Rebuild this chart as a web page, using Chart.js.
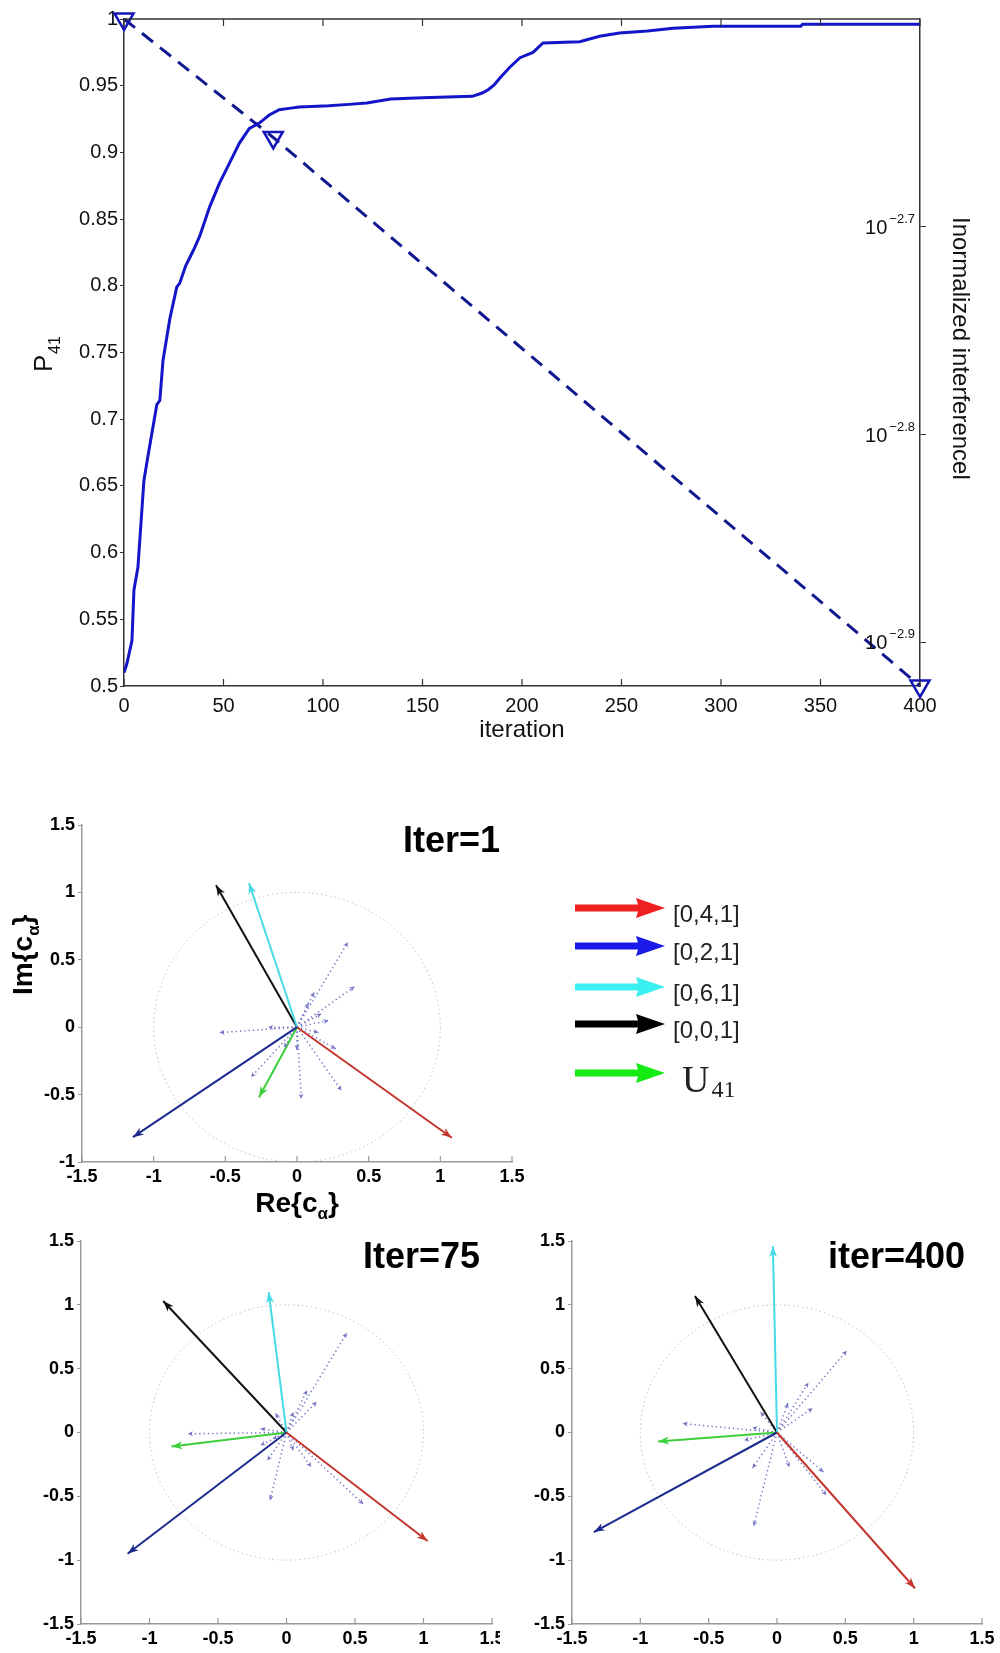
<!DOCTYPE html>
<html>
<head>
<meta charset="utf-8">
<script src="https://cdn.jsdelivr.net/npm/chart.js@4.4.1/dist/chart.umd.min.js"></script>
<style>
  body { margin: 0; background: #fff; width: 1000px; height: 1653px; position: relative; overflow: hidden; }
  canvas { position: absolute; }
</style>
</head>
<body>
<canvas id="pChart" width="1000" height="760" style="left:0;top:0;width:1000px;height:760px"></canvas>
<canvas id="c1" width="860" height="460" style="left:0;top:780px;width:860px;height:460px"></canvas>
<canvas id="c2" width="500" height="453" style="left:0;top:1200px;width:500px;height:453px"></canvas>
<canvas id="c3" width="500" height="453" style="left:500px;top:1200px;width:500px;height:453px"></canvas>
<script>
// ---- top panel: P41 vs iteration + normalized interference (log, right axis)
const iterations = [0, 1.5, 4, 5, 7, 10, 12, 16.5, 18, 19.6, 23, 26.5, 28, 31, 35, 38, 43, 48, 53, 58,
  63, 68, 73, 78, 83, 88, 103, 113, 122, 134, 150, 175, 180, 183, 186, 189, 194, 199, 205.5, 210.6,
  229, 239, 249, 263, 276, 296, 340, 341, 400];
const p41 = [0.510, 0.517, 0.534, 0.572, 0.589, 0.654, 0.672, 0.711, 0.714, 0.744, 0.775, 0.799, 0.802, 0.815, 0.827, 0.837, 0.859, 0.877, 0.892, 0.907,
  0.918, 0.922, 0.928, 0.932, 0.933, 0.934, 0.935, 0.936, 0.937, 0.940, 0.941, 0.942, 0.9445, 0.947, 0.9505, 0.956, 0.964, 0.971, 0.975, 0.982,
  0.983, 0.987, 0.9895, 0.991, 0.993, 0.9945, 0.9945, 0.996, 0.996];
const interfIter = [0, 75, 400];
const interfValues = [0.0025119, 0.0022029, 0.0011995];
const iterTicks = [0, 50, 100, 150, 200, 250, 300, 350, 400];
const pTicks = [0.5, 0.55, 0.6, 0.65, 0.7, 0.75, 0.8, 0.85, 0.9, 0.95, 1];
const logExpTicks = [-2.9, -2.8, -2.7];

// ---- compass panels (order: [0,4,1], [0,2,1], [0,6,1], [0,0,1], U41)
const vecNames = ['[0,4,1]', '[0,2,1]', '[0,6,1]', '[0,0,1]'];
const iter1Re = [1.08, -1.145, -0.335, -0.565, -0.265];
const iter1Im = [-0.82, -0.816, 1.07, 1.053, -0.52];
const iter1DotRe = [0.355, 0.40, -0.54, -0.32, 0.03, 0.31, 0.27, 0.15, 0.17, 0.12, 0.0, -0.09, -0.2, 0.08, 0.22];
const iter1DotIm = [0.63, 0.30, -0.04, -0.37, -0.53, -0.47, -0.16, -0.04, 0.10, 0.26, -0.17, -0.15, 0.0, 0.18, 0.05];

const iter75Re = [1.03, -1.16, -0.13, -0.90, -0.84];
const iter75Im = [-0.85, -0.95, 1.10, 1.03, -0.11];
const iter75DotRe = [0.44, 0.22, 0.15, -0.72, -0.19, -0.14, -0.12, 0.18, 0.56, -0.08, 0.05, -0.19, 0.05, -0.10];
const iter75DotIm = [0.78, 0.24, 0.33, -0.01, 0.03, -0.22, -0.53, -0.27, -0.56, 0.15, 0.16, -0.10, -0.14, -0.05];

const iter400Re = [1.01, -1.34, -0.03, -0.60, -0.87];
const iter400Im = [-1.22, -0.78, 1.46, 1.07, -0.07];
const iter400DotRe = [0.51, 0.26, 0.23, -0.69, -0.18, -0.24, -0.18, -0.17, 0.09, 0.34, 0.36, 0.08, -0.12];
const iter400DotIm = [0.64, 0.19, 0.39, 0.07, 0.04, -0.06, -0.28, -0.73, -0.27, -0.31, -0.49, 0.23, 0.16];

const compassTicks = [-1.5, -1, -0.5, 0, 0.5, 1, 1.5];

const fam = "'Liberation Sans', Arial, Helvetica, sans-serif";
const serif = "'Liberation Serif', 'DejaVu Serif', serif";
const vecColors = ['#c4352d', '#1c2a8e', '#45dbe6', '#111111', '#3ccf3c'];
const legendColors = ['#ee2020', '#1a1ae8', '#3af0f0', '#000000', '#14ec14'];
const dotColor = '#7274c4';
const axisDark = '#333';
const axisGray = '#9a9a9a';

function fmt(v) { return String(Number(v.toFixed(2))); }

const topDecor = {
  id: 'topDecor',
  afterDraw(chart) {
    const { ctx, chartArea: a, scales } = chart;
    const x = scales.x, y2 = scales.y2;
    ctx.save();
    ctx.strokeStyle = axisDark;
    ctx.lineWidth = 1.5;
    ctx.beginPath();
    ctx.moveTo(a.left, a.top); ctx.lineTo(a.right, a.top);
    ctx.stroke();
    // inward x ticks, bottom and top
    ctx.lineWidth = 1.2;
    x.ticks.forEach(t => {
      const px = x.getPixelForValue(t.value);
      ctx.beginPath();
      ctx.moveTo(px, a.bottom); ctx.lineTo(px, a.bottom - 7);
      ctx.moveTo(px, a.top); ctx.lineTo(px, a.top + 7);
      ctx.stroke();
    });
    // log tick labels written inside the plot, 10 with superscript
    ctx.fillStyle = '#111';
    ctx.textAlign = 'right';
    ctx.textBaseline = 'alphabetic';
    y2.ticks.forEach(t => {
      const py = y2.getPixelForValue(t.value);
      const sup = '\u2212' + Math.abs(Math.log10(t.value)).toFixed(1);
      ctx.font = '13px ' + fam;
      const sw = ctx.measureText(sup).width;
      ctx.fillText(sup, a.right - 5, py - 4);
      ctx.font = '20px ' + fam;
      ctx.fillText('10', a.right - 7 - sw, py + 7);
    });
    // axis titles
    ctx.font = '24px ' + fam;
    ctx.textAlign = 'center';
    ctx.fillText('iteration', (a.left + a.right) / 2, 737);
    ctx.save();
    ctx.translate(52, 372);
    ctx.rotate(-Math.PI / 2);
    ctx.textAlign = 'left';
    ctx.font = '26px ' + fam;
    ctx.fillText('P', 0, 0);
    ctx.font = '16px ' + fam;
    ctx.fillText('41', 18, 8);
    ctx.restore();
    ctx.save();
    ctx.translate(953, 217);
    ctx.rotate(Math.PI / 2);
    ctx.textAlign = 'left';
    ctx.font = '24px ' + fam;
    ctx.fillText('Inormalized interferencel', 0, 0);
    ctx.restore();
    ctx.restore();
  }
};

new Chart('pChart', {
  type: 'line',
  data: {
    datasets: [
      {
        data: iterations.map((v, i) => ({ x: v, y: p41[i] })),
        yAxisID: 'y',
        borderColor: '#1414c8',
        borderWidth: 3,
        pointRadius: 0,
        tension: 0
      },
      {
        data: interfIter.map((v, i) => ({ x: v, y: interfValues[i] })),
        yAxisID: 'y2',
        borderColor: '#10188f',
        borderWidth: 3,
        borderDash: [14, 9],
        pointStyle: 'triangle',
        pointRotation: 180,
        pointRadius: 11,
        pointBorderColor: '#1616b8',
        pointBackgroundColor: 'rgba(0,0,0,0)',
        pointBorderWidth: 2.5,
        clip: false
      }
    ]
  },
  options: {
    responsive: false,
    animation: false,
    events: [],
    plugins: { legend: { display: false }, tooltip: { enabled: false } },
    layout: { padding: { top: 19, left: 0, right: 0, bottom: 0 } },
    scales: {
      x: {
        type: 'linear', min: 0, max: 400,
        afterBuildTicks: s => { s.ticks = iterTicks.map(v => ({ value: v })); },
        afterFit: s => { s.height = 74; s.paddingLeft = 0; s.paddingRight = 0; },
        grid: { drawOnChartArea: false, drawTicks: false },
        border: { color: axisDark, width: 1.5 },
        ticks: { padding: 8, color: '#111', maxRotation: 0, font: { size: 20, family: fam } }
      },
      y: {
        type: 'linear', min: 0.5, max: 1,
        afterBuildTicks: s => { s.ticks = pTicks.map(v => ({ value: v })); },
        afterFit: s => { s.width = 124; },
        grid: { drawOnChartArea: false, tickLength: 4, color: axisDark },
        border: { color: axisDark, width: 1.5 },
        ticks: { padding: 2, color: '#111', font: { size: 20, family: fam }, callback: v => fmt(v) }
      },
      y2: {
        type: 'logarithmic', position: 'right',
        min: Math.pow(10, -2.921), max: Math.pow(10, -2.6),
        afterBuildTicks: s => { s.ticks = logExpTicks.map(e => ({ value: Math.pow(10, e) })); },
        afterFit: s => { s.width = 80; },
        grid: { drawOnChartArea: false, tickLength: 6, color: axisDark },
        border: { color: axisDark, width: 1.5 },
        ticks: { display: false }
      }
    }
  },
  plugins: [topDecor]
});

function drawHead(ctx, x0, y0, x1, y1, len, w, color) {
  const ang = Math.atan2(y1 - y0, x1 - x0);
  const c = Math.cos(ang), s = Math.sin(ang);
  const bx = x1 - len * c, by = y1 - len * s;
  ctx.fillStyle = color;
  ctx.beginPath();
  ctx.moveTo(x1, y1);
  ctx.lineTo(bx - w * s, by + w * c);
  ctx.lineTo(x1 - len * 0.7 * c, y1 - len * 0.7 * s);
  ctx.lineTo(bx + w * s, by - w * c);
  ctx.closePath();
  ctx.fill();
}

function compass(id, cfg) {
  const datasets = [];
  cfg.re.forEach((r, i) => datasets.push({
    data: [{ x: 0, y: 0 }, { x: r, y: cfg.im[i] }],
    borderColor: vecColors[i], borderWidth: 2, pointRadius: 0,
    headLen: 11, headW: 4
  }));
  cfg.dotRe.forEach((r, i) => datasets.push({
    data: [{ x: 0, y: 0 }, { x: r, y: cfg.dotIm[i] }],
    borderColor: dotColor, borderWidth: 1.5, borderDash: [1.3, 3], pointRadius: 0,
    headLen: 5, headW: 2.5
  }));

  const decor = {
    id: 'decor_' + id,
    beforeDatasetsDraw(chart) {
      const { ctx, scales: { x, y } } = chart;
      const cx = x.getPixelForValue(0), cy = y.getPixelForValue(0);
      const rx = x.getPixelForValue(1) - cx, ry = cy - y.getPixelForValue(1);
      ctx.save();
      ctx.strokeStyle = '#b8bedc';
      ctx.lineWidth = 1;
      ctx.setLineDash([1.5, 3]);
      ctx.beginPath();
      ctx.ellipse(cx, cy, rx, ry, 0, 0, Math.PI * 2);
      ctx.stroke();
      ctx.restore();
    },
    afterDatasetsDraw(chart) {
      const ctx = chart.ctx;
      ctx.save();
      chart.data.datasets.forEach((ds, i) => {
        const pts = chart.getDatasetMeta(i).data;
        drawHead(ctx, pts[0].x, pts[0].y, pts[1].x, pts[1].y, ds.headLen, ds.headW, ds.borderColor);
      });
      ctx.restore();
    },
    afterDraw(chart) {
      const { ctx, chartArea: a, scales: { x } } = chart;
      ctx.save();
      ctx.strokeStyle = axisGray;
      ctx.lineWidth = 1.2;
      x.ticks.forEach(t => {
        const px = x.getPixelForValue(t.value);
        ctx.beginPath();
        ctx.moveTo(px, a.bottom); ctx.lineTo(px, a.bottom - 6);
        ctx.stroke();
      });
      ctx.fillStyle = '#000';
      ctx.font = 'bold 36px ' + fam;
      ctx.textAlign = 'right';
      ctx.textBaseline = 'alphabetic';
      ctx.fillText(cfg.title, a.right - cfg.titleInset, a.top + 27);
      if (cfg.axisLabels) {
        const x0 = x.getPixelForValue(0);
        ctx.font = 'bold 28px ' + fam;
        const w1 = ctx.measureText('Re{c').width;
        ctx.font = 'bold 17px ' + fam;
        const w2 = ctx.measureText('\u03b1').width;
        ctx.font = 'bold 28px ' + fam;
        const w3 = ctx.measureText('}').width;
        let sx = x0 - (w1 + w2 + w3) / 2;
        ctx.textAlign = 'left';
        ctx.fillText('Re{c', sx, a.bottom + 50);
        ctx.font = 'bold 17px ' + fam;
        ctx.fillText('\u03b1', sx + w1, a.bottom + 57);
        ctx.font = 'bold 28px ' + fam;
        ctx.fillText('}', sx + w1 + w2, a.bottom + 50);

        ctx.save();
        ctx.translate(32, a.top + 170);
        ctx.rotate(-Math.PI / 2);
        ctx.fillText('Im{c', 0, 0);
        const wi = ctx.measureText('Im{c').width;
        ctx.font = 'bold 17px ' + fam;
        ctx.fillText('\u03b1', wi, 7);
        ctx.font = 'bold 28px ' + fam;
        ctx.fillText('}', wi + w2, 0);
        ctx.restore();
      }
      if (cfg.legend) {
        const rows = [128, 166, 207, 244, 293];
        rows.forEach((ry, i) => {
          ctx.strokeStyle = legendColors[i];
          ctx.lineWidth = 7;
          ctx.beginPath();
          ctx.moveTo(575, ry); ctx.lineTo(642, ry);
          ctx.stroke();
          ctx.fillStyle = legendColors[i];
          ctx.beginPath();
          ctx.moveTo(665, ry);
          ctx.lineTo(636, ry - 10);
          ctx.lineTo(639, ry);
          ctx.lineTo(636, ry + 10);
          ctx.closePath();
          ctx.fill();
          ctx.fillStyle = '#222';
          if (i < vecNames.length) {
            ctx.font = '24px ' + fam;
            ctx.fillText(vecNames[i], 673, ry + 14);
          } else {
            ctx.font = '38px ' + serif;
            ctx.fillText('U', 682, ry + 19);
            const uw = ctx.measureText('U').width;
            ctx.font = '24px ' + serif;
            ctx.fillText('41', 682 + uw + 2, ry + 24);
          }
        });
      }
      ctx.restore();
    }
  };

  const tickFont = { size: 18, weight: 'bold', family: fam };
  return new Chart(id, {
    type: 'line',
    data: { datasets },
    options: {
      responsive: false,
      animation: false,
      events: [],
      plugins: { legend: { display: false }, tooltip: { enabled: false } },
      layout: { padding: { top: cfg.padTop, right: cfg.padRight, left: 0, bottom: 0 } },
      scales: {
        x: {
          type: 'linear', min: -1.5, max: 1.5,
          afterBuildTicks: s => { s.ticks = compassTicks.map(v => ({ value: v })); },
          afterFit: s => { s.height = cfg.xAxisH; s.paddingLeft = 0; s.paddingRight = 0; },
          grid: { drawOnChartArea: false, drawTicks: false },
          border: { color: axisGray, width: 1.5 },
          ticks: { padding: 4, color: '#000', maxRotation: 0, autoSkip: false, font: tickFont, callback: v => fmt(v) }
        },
        y: {
          type: 'linear', min: cfg.yMin, max: 1.5,
          afterBuildTicks: s => { s.ticks = compassTicks.filter(v => v >= cfg.yMin).map(v => ({ value: v })); },
          afterFit: s => { s.width = cfg.yAxisW; },
          grid: { drawOnChartArea: false, tickLength: 4, color: axisGray },
          border: { color: axisGray, width: 1.5 },
          ticks: { padding: 3, color: '#000', autoSkip: false, font: tickFont, callback: v => fmt(v) }
        }
      }
    },
    plugins: [decor]
  });
}

compass('c1', {
  re: iter1Re, im: iter1Im, dotRe: iter1DotRe, dotIm: iter1DotIm,
  yMin: -1, padTop: 45, padRight: 348, yAxisW: 82, xAxisH: 78,
  title: 'Iter=1', titleInset: 12, axisLabels: true, legend: true
});
compass('c2', {
  re: iter75Re, im: iter75Im, dotRe: iter75DotRe, dotIm: iter75DotIm,
  yMin: -1.5, padTop: 41, padRight: 8, yAxisW: 81, xAxisH: 29,
  title: 'Iter=75', titleInset: 12, axisLabels: false, legend: false
});
compass('c3', {
  re: iter400Re, im: iter400Im, dotRe: iter400DotRe, dotIm: iter400DotIm,
  yMin: -1.5, padTop: 41, padRight: 18, yAxisW: 72, xAxisH: 29,
  title: 'iter=400', titleInset: 17, axisLabels: false, legend: false
});
</script>
</body>
</html>
